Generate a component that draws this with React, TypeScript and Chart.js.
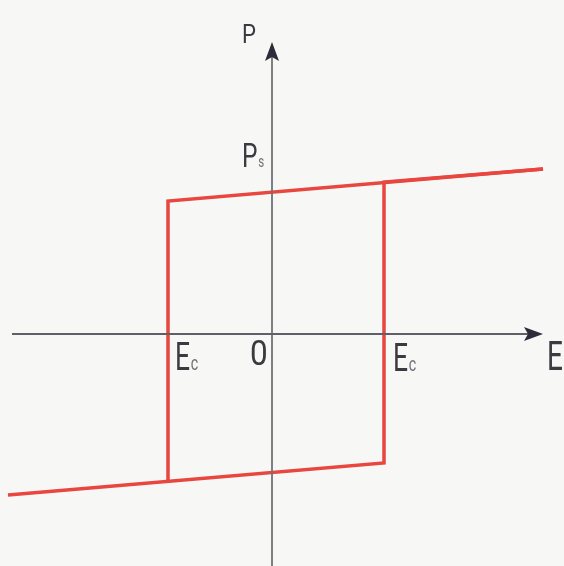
import { useEffect, useRef } from "react";
import { Chart, registerables } from "chart.js";

Chart.register(...registerables);

// Hysteresis loop (E in arbitrary units, P in arbitrary units)
const ascendingBranchE = [-26.4, 11.2, 11.2, 27.1];
const ascendingBranchP = [-16.1, -12.9, 15.2, 16.5];
const descendingBranchE = [27.1, -10.4, -10.4];
const descendingBranchP = [16.5, 13.3, -14.7];

// Axes (E axis and P axis), arrow tips
const eAxisE = [-26.0, 25.6];
const eAxisP = [0, 0];
const pAxisE = [0, 0];
const pAxisP = [-23.5, 27.8];
const eAxisTip = { e: 27.1, p: 0 };
const pAxisTip = { e: 0, p: 29.2 };

// Text labels
const labelTexts = ["P", "P", "E", "0", "E", "E"];
const labelSubs = ["", "s", "c", "", "c", ""];
const labelE = [-3.0, -3.0, -9.7, -2.2, 12.1, 27.5];
const labelP = [29.1, 16.7, -3.6, -3.1, -3.7, -3.6];

const X_MIN = -27.2, X_MAX = 29.2, Y_MIN = -23.2, Y_MAX = 33.4;

const labelStyle = [
  { size: 26, sx: 0.85, subSize: 0 },
  { size: 34, sx: 0.72, subSize: 16 },
  { size: 39, sx: 0.68, subSize: 21 },
  { size: 35, sx: 0.9, subSize: 0 },
  { size: 39, sx: 0.68, subSize: 21 },
  { size: 40, sx: 0.7, subSize: 0 },
];

const toPts = (xs: number[], ys: number[]) => xs.map((x, i) => ({ x, y: ys[i] }));

const decorPlugin = {
  id: "decor",
  beforeDraw(chart: any) {
    const { ctx, width, height } = chart;
    ctx.save();
    ctx.fillStyle = "#f7f7f6";
    ctx.fillRect(0, 0, width, height);
    ctx.restore();
  },
  afterDatasetsDraw(chart: any) {
    const { ctx } = chart;
    const xs = chart.scales.x, ys = chart.scales.y;
    ctx.save();
    ctx.fillStyle = "#2e2c3a";
    // right arrow
    const tx = xs.getPixelForValue(eAxisTip.e), ty = ys.getPixelForValue(eAxisTip.p);
    ctx.beginPath();
    ctx.moveTo(tx, ty);
    ctx.lineTo(tx - 19, ty - 7);
    ctx.lineTo(tx - 15, ty);
    ctx.lineTo(tx - 19, ty + 7);
    ctx.closePath();
    ctx.fill();
    // up arrow
    const ux = xs.getPixelForValue(pAxisTip.e), uy = ys.getPixelForValue(pAxisTip.p);
    ctx.beginPath();
    ctx.moveTo(ux, uy);
    ctx.lineTo(ux - 7, uy + 19);
    ctx.lineTo(ux, uy + 15);
    ctx.lineTo(ux + 7, uy + 19);
    ctx.closePath();
    ctx.fill();
    // labels
    labelTexts.forEach((t, i) => {
      const st = labelStyle[i];
      const px = xs.getPixelForValue(labelE[i]);
      const py = ys.getPixelForValue(labelP[i]);
      ctx.save();
      ctx.translate(px, py);
      ctx.scale(st.sx, 1);
      ctx.font = `400 ${st.size}px Roboto, "Open Sans", sans-serif`;
      ctx.fillStyle = "#3a3a40";
      ctx.textBaseline = "alphabetic";
      ctx.textAlign = "left";
      ctx.fillText(t, 0, 0);
      const w = ctx.measureText(t).width;
      if (labelSubs[i]) {
        ctx.font = `400 ${st.subSize}px Roboto, "Open Sans", sans-serif`;
        ctx.fillStyle = "#707076";
        ctx.fillText(labelSubs[i], w + 1, 0);
      }
      ctx.restore();
    });
    ctx.restore();
  },
};

export default function App() {
  const ref = useRef<HTMLCanvasElement | null>(null);
  useEffect(() => {
    if (!ref.current) return;
    const chart = new Chart(ref.current, {
      type: "scatter",
      data: {
        datasets: [
          {
            data: toPts(eAxisE, eAxisP),
            showLine: true,
            borderColor: "#606068",
            borderWidth: 2,
            pointRadius: 0,
          },
          {
            data: toPts(pAxisE, pAxisP),
            showLine: true,
            borderColor: "#707078",
            borderWidth: 1.8,
            pointRadius: 0,
          },
          {
            data: toPts(ascendingBranchE, ascendingBranchP),
            showLine: true,
            borderColor: "#e8463e",
            borderWidth: 3.5,
            pointRadius: 0,
            borderJoinStyle: "miter",
          },
          {
            data: toPts(descendingBranchE, descendingBranchP),
            showLine: true,
            borderColor: "#e8463e",
            borderWidth: 3.5,
            pointRadius: 0,
            borderJoinStyle: "miter",
          },
        ],
      },
      options: {
        responsive: false,
        animation: false,
        layout: { padding: 0 },
        plugins: { legend: { display: false }, tooltip: { enabled: false } },
        scales: {
          x: { type: "linear", min: X_MIN, max: X_MAX, display: false },
          y: { type: "linear", min: Y_MIN, max: Y_MAX, display: false },
        },
      },
      plugins: [decorPlugin],
    } as any);
    return () => chart.destroy();
  }, []);
  return (
    <div style={{ position: "absolute", left: 0, top: 0, width: 564, height: 566 }}>
      <canvas ref={ref} width={564} height={566} />
    </div>
  );
}
